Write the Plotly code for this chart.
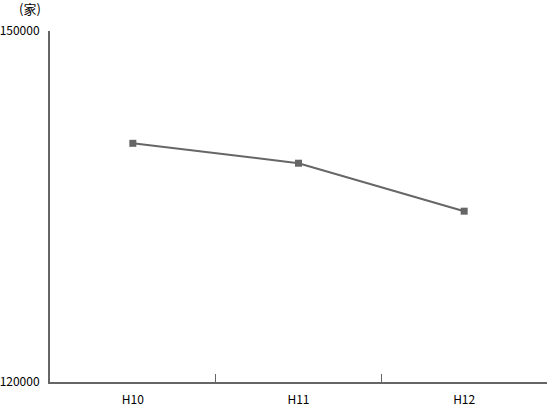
import plotly.graph_objects as go

categories = ["H10", "H11", "H12"]
values = [140400, 138700, 134600]
y_ticks = [120000, 150000]
y_unit = "(家)"

color = "#666666"
font = dict(family="Noto Sans CJK JP", size=12, color="#000000")

fig = go.Figure(go.Scatter(
    x=categories, y=values, mode="lines+markers",
    line=dict(color=color, width=2),
    marker=dict(symbol="square", size=7, color=color),
    cliponaxis=False,
))

fig.update_layout(
    width=548, height=411,
    margin=dict(l=50, r=1, t=31, b=29, autoexpand=False),
    plot_bgcolor="white", paper_bgcolor="white",
    showlegend=False, font=font,
)
fig.update_xaxes(
    type="category", range=[-0.5, 2.5], tickson="boundaries",
    showline=True, linecolor=color, linewidth=2,
    ticks="inside", ticklen=8, tickcolor=color, tickwidth=1,
    showgrid=False, ticklabelstandoff=6, automargin=False,
)
fig.update_yaxes(
    range=[120000, 150000], tickvals=y_ticks,
    ticktext=[str(v) for v in y_ticks],
    showline=True, linecolor=color, linewidth=2,
    ticks="inside", ticklen=12, tickcolor=color, tickwidth=2,
    showgrid=False, zeroline=False, ticklabelstandoff=6, automargin=False,
)
fig.add_annotation(
    text=y_unit, xref="paper", yref="paper", x=-0.015, y=1.0, yshift=23,
    xanchor="right", yanchor="middle", showarrow=False,
    font=dict(family="Noto Sans CJK JP", size=13, color="#000000"),
)
fig.write_html(
    "out.html",
    config={"displayModeBar": False},
    post_script="document.body.style.margin='0';document.body.style.overflow='hidden';",
)
